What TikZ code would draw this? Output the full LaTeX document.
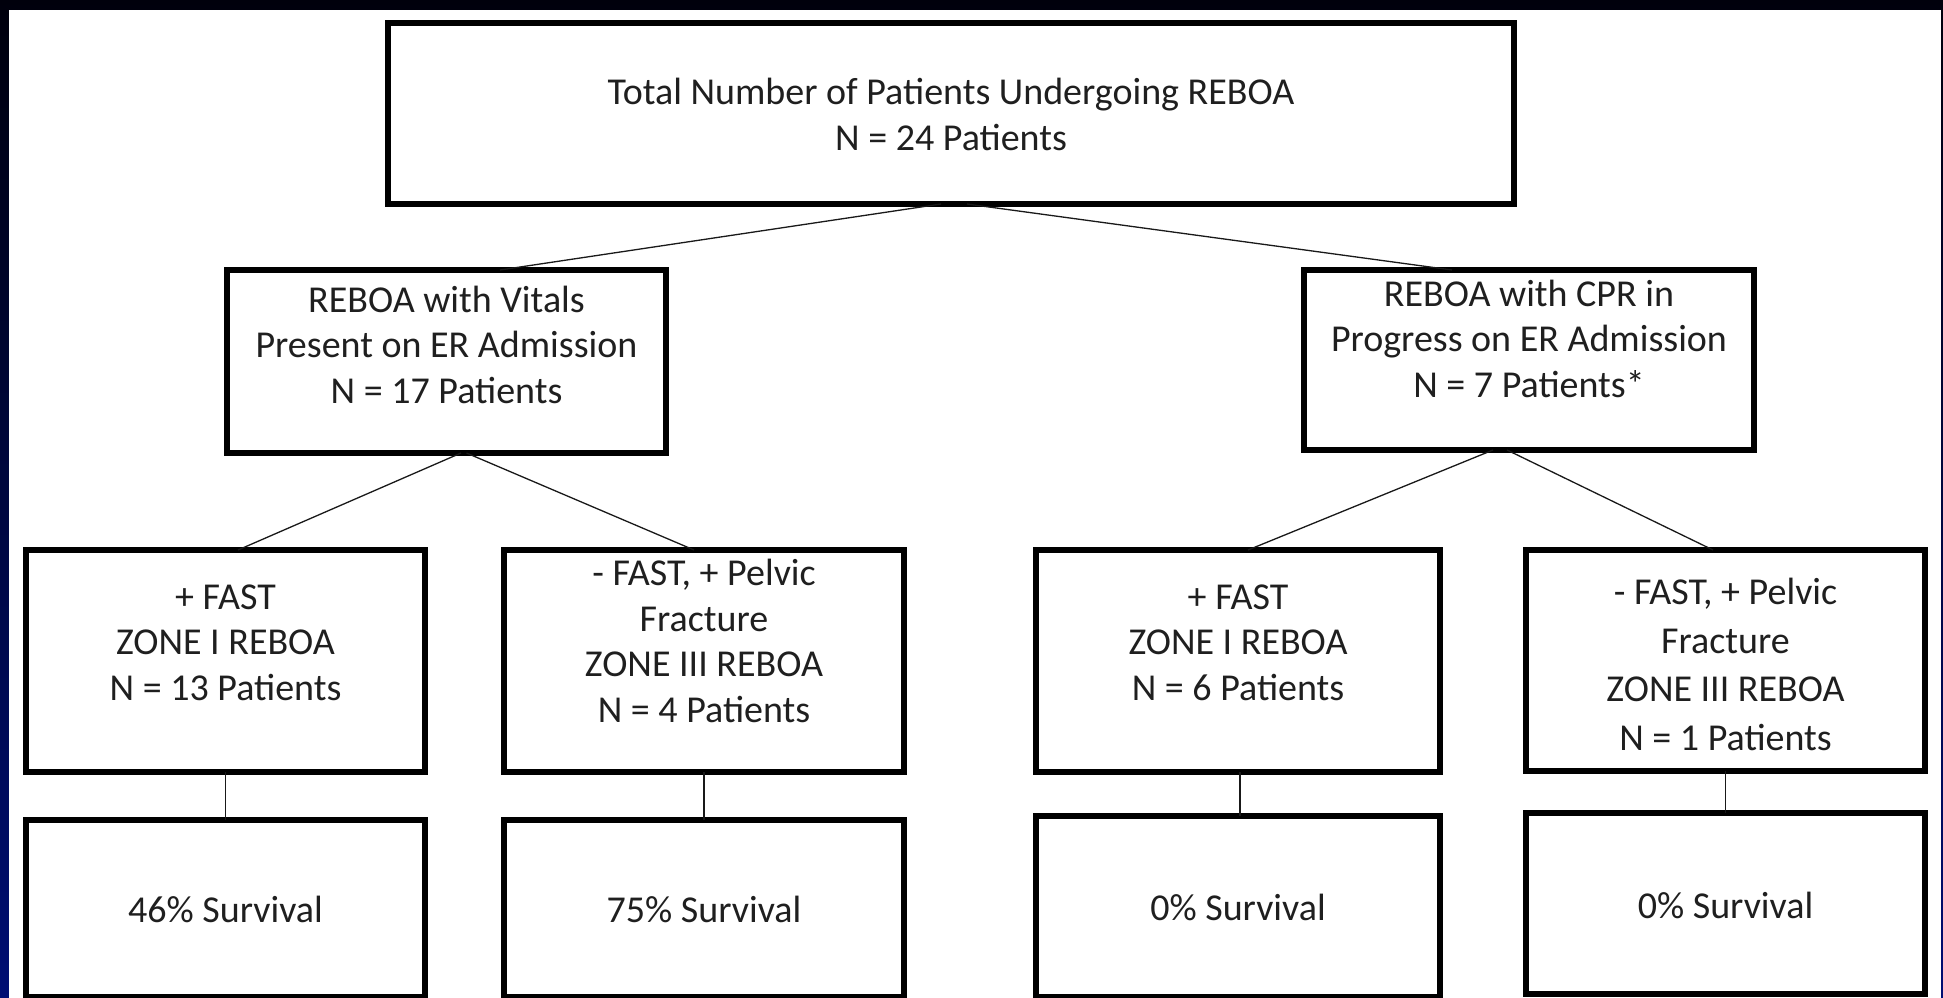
\documentclass[tikz,border=0pt]{standalone}
\usepackage{fontspec}
\setmainfont{Carlito}
\begin{document}
\begin{tikzpicture}[x=1pt,y=-1pt,
  box/.style={draw=black, line width=6pt, fill=white, inner sep=0pt, outer sep=0pt, rectangle},
  lbl/.style={align=center, anchor=base, inner sep=0pt, text=black!88,
    font=\fontsize{38}{45.5}\selectfont},
  widelbl/.style={lbl, font=\fontsize{38}{48.5}\selectfont},
  link/.style={draw=black!90, line width=1.3pt}]
\useasboundingbox (0,0) rectangle (1943,998);
% slide background and white page
\fill[top color={rgb,255:red,0;green,0;blue,12}, bottom color={rgb,255:red,0;green,14;blue,115}] (0,0) rectangle (1943,998);
\fill[white] (9,10) rectangle (1941,998);

% level 1
\node[box, minimum width=1126pt, minimum height=181pt] (top) at (951,113.5) {};
% level 2
\node[box, minimum width=439pt, minimum height=183pt] (ml) at (446.5,361.5) {};
\node[box, minimum width=450pt, minimum height=180pt] (mr) at (1529,360) {};
% level 3
\node[box, minimum width=399pt, minimum height=222pt] (a3) at (225.5,661) {};
\node[box, minimum width=400pt, minimum height=222pt] (b3) at (704,661) {};
\node[box, minimum width=404pt, minimum height=222pt] (c3) at (1238,661) {};
\node[box, minimum width=399pt, minimum height=221pt] (d3) at (1725.5,660.5) {};
% level 4
\node[box, minimum width=399pt, minimum height=177pt] (a4) at (225.5,908.5) {};
\node[box, minimum width=400pt, minimum height=177pt] (b4) at (704,908.5) {};
\node[box, minimum width=404pt, minimum height=181pt] (c4) at (1238,906.5) {};
\node[box, minimum width=399pt, minimum height=181pt] (d4) at (1725.5,903.5) {};

% texts (base anchor sits on the last line)
\node[lbl] (ttop) at (951,150) {Total Number of Patients Undergoing REBOA\\N = 24 Patients};
\node[lbl] (tml) at (446.5,403) {REBOA with Vitals\\Present on ER Admission\\N = 17 Patients};
\node[lbl] (tmr) at (1529,397) {REBOA with CPR in\\Progress on ER Admission\\N = 7 Patients*};
\node[lbl] (ta3) at (225.5,700) {+ FAST\\ZONE I REBOA\\N = 13 Patients};
\node[lbl] (tb3) at (704,722) {- FAST, + Pelvic\\Fracture\\ZONE III REBOA\\N = 4 Patients};
\node[lbl] (tc3) at (1238,700) {+ FAST\\ZONE I REBOA\\N = 6 Patients};
\node[widelbl] (td3) at (1725.5,750) {- FAST, + Pelvic\\Fracture\\ZONE III REBOA\\N = 1 Patients};
\node[lbl] (ta4) at (225.5,922) {46\% Survival};
\node[lbl] (tb4) at (704,922) {75\% Survival};
\node[lbl] (tc4) at (1238,920) {0\% Survival};
\node[lbl] (td4) at (1725.5,918) {0\% Survival};

% connectors
\draw[link] ([xshift=-10pt]top.south) -- ([xshift=53.5pt]ml.north);
\draw[link] ([xshift=16pt]top.south) -- ([xshift=-77pt]mr.north);
\draw[link] ([xshift=14.5pt]ml.south) -- ([xshift=12.5pt]a3.north);
\draw[link] ([xshift=20pt]ml.south) -- ([xshift=-10pt]b3.north);
\draw[link] ([xshift=-36pt]mr.south) -- ([xshift=10pt]c3.north);
\draw[link] ([xshift=-22pt]mr.south) -- ([xshift=-12.5pt]d3.north);
\draw[link] (a3.south) -- (a4.north);
\draw[link] (b3.south) -- (b4.north);
\draw[link] ([xshift=2pt]c3.south) -- ([xshift=2pt]c4.north);
\draw[link] (d3.south) -- (d4.north);
\end{tikzpicture}
\end{document}
